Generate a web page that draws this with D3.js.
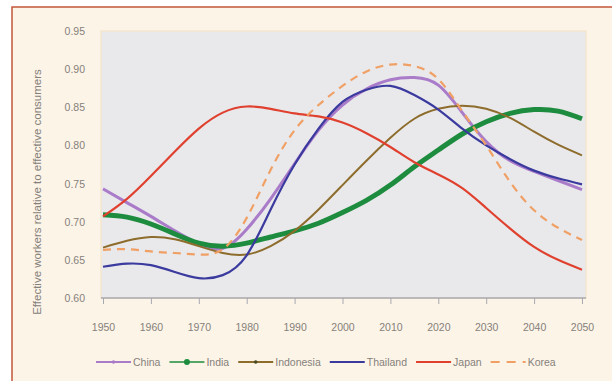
<!DOCTYPE html>
<html>
<head>
<script src="https://d3js.org/d3.v7.min.js"></script>
<style>
  body { margin: 0; background: #fff; }
  text { font-family: "Liberation Sans", Arial, sans-serif; fill: #85817a; }
</style>
</head>
<body>
<svg width="612" height="381"></svg>
<script>
// years every 5 from 1950 to 2050
var years = d3.range(1950, 2051, 5);
var china     = [.743, .725, .707, .688, .671, .665, .690, .730, .776, .820, .853, .874, .886, .889, .879, .843, .805, .780, .766, .754, .742];
var india     = [.709, .706, .697, .684, .672, .668, .672, .680, .688, .698, .712, .728, .748, .772, .794, .815, .831, .842, .847, .845, .835];
var indonesia = [.666, .675, .680, .677, .668, .659, .657, .668, .688, .716, .748, .780, .810, .835, .848, .852, .848, .836, .818, .801, .787];
var thailand  = [.641, .645, .643, .634, .626, .630, .656, .716, .775, .822, .857, .873, .878, .866, .847, .822, .800, .782, .767, .757, .749];
var japan     = [.707, .730, .760, .792, .822, .843, .851, .848, .842, .838, .830, .816, .798, .778, .762, .744, .718, .691, .667, .650, .637];
var korea     = [.663, .664, .661, .659, .657, .664, .705, .768, .820, .853, .878, .897, .906, .904, .887, .845, .800, .752, .715, .692, .676];

var yTicks = [0.60, 0.65, 0.70, 0.75, 0.80, 0.85, 0.90, 0.95];
var xTicks = d3.range(1950, 2051, 10);

var series = [
  {name: "China", values: china, color: "#a97bc9", width: 3, dash: null, marker: "cross"},
  {name: "India", values: india, color: "#1e8c3e", width: 5, dash: null, marker: "dot"},
  {name: "Indonesia", values: indonesia, color: "#8d6c2c", width: 2, dash: null, marker: "dot"},
  {name: "Thailand", values: thailand, color: "#3b3a9e", width: 2.2, dash: null, marker: null},
  {name: "Japan", values: japan, color: "#e0402e", width: 2.2, dash: null, marker: null},
  {name: "Korea", values: korea, color: "#f0a064", width: 2.2, dash: "8,6", marker: null}
];

var svg = d3.select("svg");

// page frame
svg.append("rect")
  .attr("x", 12).attr("y", 7)
  .attr("width", 700).attr("height", 500)
  .attr("fill", "#fdf4e8")
  .attr("stroke", "#c4553a")
  .attr("stroke-width", 1.5);

var x = d3.scaleLinear().domain([1950, 2050]).range([103, 582]);
var y = d3.scaleLinear().domain([0.60, 0.95]).range([298, 31]);

// plot area
svg.append("rect")
  .attr("x", 101).attr("y", 31)
  .attr("width", 485).attr("height", 267)
  .attr("fill", "#e9e9ec")
  .attr("stroke", "#f3e6cf")
  .attr("stroke-width", 1.5);

// lines
var line = d3.line()
  .x(function(d, i) { return x(years[i]); })
  .y(function(d) { return y(d); })
  .curve(d3.curveNatural);

var g = svg.append("g");
series.forEach(function(s) {
  g.append("path")
    .datum(s.values)
    .attr("fill", "none")
    .attr("stroke", s.color)
    .attr("stroke-width", s.width)
    .attr("stroke-dasharray", s.dash)
    .attr("stroke-linecap", "butt")
    .attr("d", line);
});

// bottom axis
var xAxis = svg.append("g")
  .attr("transform", "translate(0,298)")
  .call(d3.axisBottom(x).tickValues(xTicks).tickFormat(d3.format("d")).tickSize(6).tickSizeOuter(0).tickPadding(20));
xAxis.select(".domain").attr("stroke", "#a8a8b0").attr("stroke-width", 1.5)
  .attr("d", "M101,0H586");
xAxis.selectAll(".tick line").attr("stroke", "#a8a8b0");
xAxis.selectAll("text").attr("font-size", 10.5).attr("fill", "#8a8680")
  .style("font-family", "Liberation Sans, Arial, sans-serif");

// y labels
svg.append("g").selectAll("text")
  .data(yTicks)
  .enter().append("text")
  .attr("x", 85)
  .attr("y", function(d) { return y(d) + 4; })
  .attr("text-anchor", "end")
  .attr("font-size", 10.5)
  .text(function(d) { return d.toFixed(2); });

// y title
svg.append("text")
  .attr("transform", "translate(41,192) rotate(-90)")
  .attr("text-anchor", "middle")
  .attr("font-size", 11.5)
  .text("Effective workers relative to effective consumers");

// legend
var lx = 96, ly = 362;
series.forEach(function(s) {
  var lg = svg.append("g");
  lg.append("line")
    .attr("x1", lx).attr("x2", lx + 35)
    .attr("y1", ly).attr("y2", ly)
    .attr("stroke", s.color)
    .attr("stroke-width", s.name == "India" ? 1.5 : 2.2)
    .attr("stroke-dasharray", s.dash ? "9,7" : null);
  if (s.marker) {
    lg.append("circle")
      .attr("cx", lx + 17.5).attr("cy", ly)
      .attr("r", s.marker == "dot" && s.name == "India" ? 3 : 1.8)
      .attr("fill", s.name == "Indonesia" ? "#4a4a20" : s.color);
  }
  var t = lg.append("text")
    .attr("x", lx + 37).attr("y", ly + 4)
    .attr("font-size", 10.5)
    .text(s.name);
  lx = lx + 37 + t.node().getComputedTextLength() + 9;
});
</script>
</body>
</html>
